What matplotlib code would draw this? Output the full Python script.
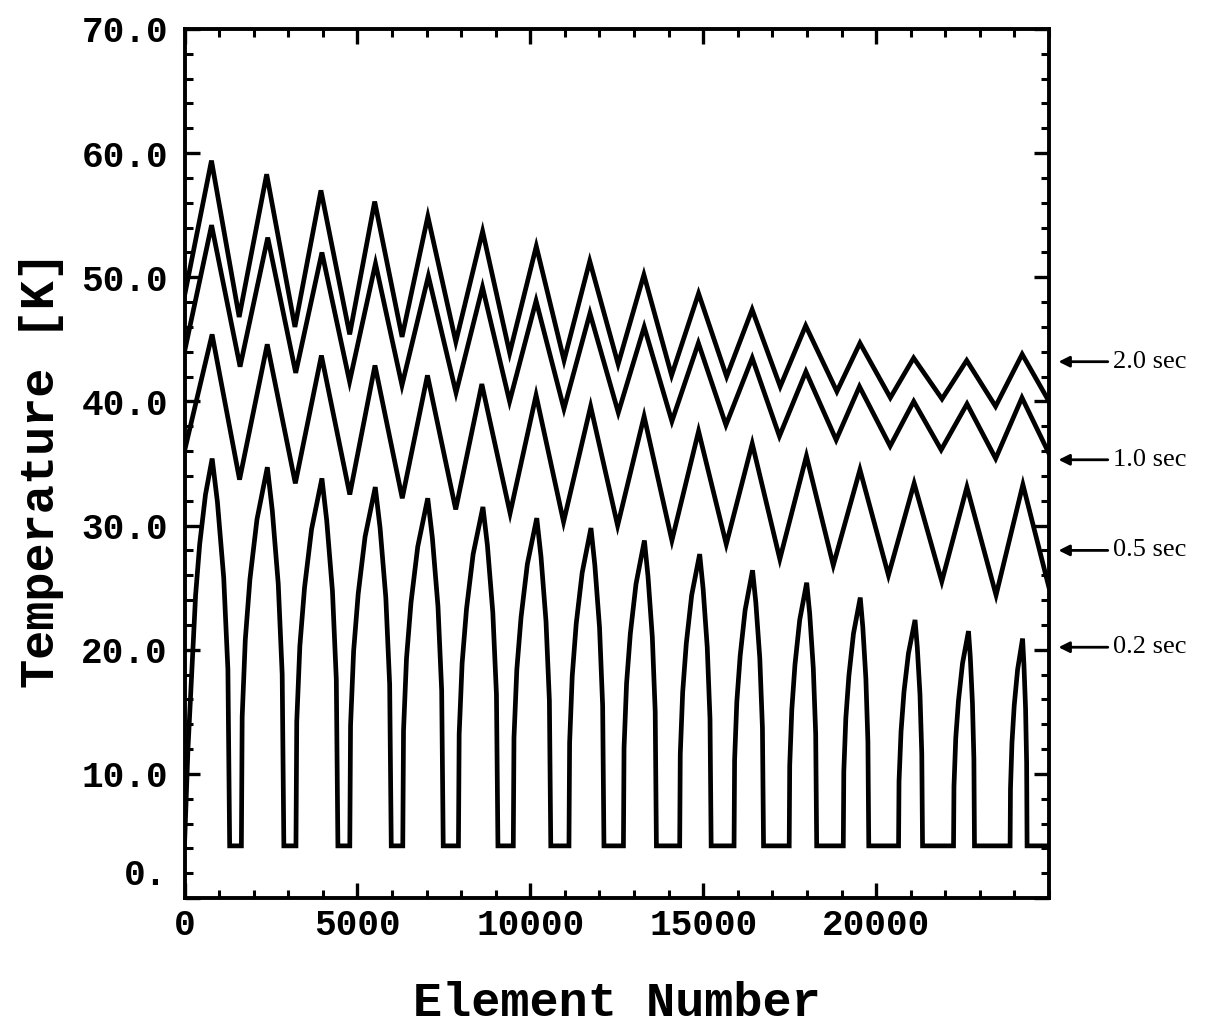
import matplotlib
matplotlib.use("Agg")
import matplotlib.pyplot as plt
from matplotlib.ticker import MultipleLocator, FixedLocator, FixedFormatter
import matplotlib.transforms as mtrans

# ---------------- data ----------------
x_end = 25000

# 2.0 sec curve
start_20 = 48.5
peak_x_20 = [780, 2376, 3945, 5500, 7037, 8621, 10173, 11719, 13285, 14866, 16415, 17964, 19533, 21085, 22620, 24224]
peak_T_20 = [59.4, 58.3, 57.0, 56.1, 54.9, 53.7, 52.5, 51.3, 50.2, 48.7, 47.4, 46.1, 44.7, 43.5, 43.3, 43.8]
valley_x_20 = [1581, 3193, 4777, 6291, 7846, 9404, 10976, 12540, 14086, 15678, 17227, 18866, 20412, 21906, 23455]
valley_T_20 = [46.8, 46.0, 45.4, 45.2, 44.8, 43.9, 43.3, 43.0, 42.1, 42.0, 41.2, 40.8, 40.3, 40.2, 39.6]
end_20 = 40.0

# 1.0 sec curve
start_10 = 44.0
peak_x_10 = [783, 2407, 3974, 5523, 7052, 8618, 10167, 11725, 13294, 14861, 16418, 17970, 19519, 21088, 22629, 24218]
peak_T_10 = [54.2, 53.2, 52.0, 51.1, 50.1, 49.2, 48.1, 47.1, 46.0, 44.7, 43.5, 42.4, 41.2, 40.0, 39.8, 40.3]
valley_x_10 = [1607, 3216, 4774, 6289, 7852, 9401, 10973, 12545, 14095, 15658, 17204, 18845, 20406, 21882, 23458]
valley_T_10 = [42.8, 42.3, 41.6, 41.3, 40.7, 40.0, 39.4, 39.1, 38.4, 38.1, 37.2, 36.9, 36.4, 36.1, 35.4]
end_10 = 35.8

# 0.5 sec curve
start_05 = 36.0
peak_x_05 = [798, 2393, 3959, 5508, 7026, 8598, 10167, 11745, 13291, 14866, 16418, 17985, 19533, 21100, 22626, 24245]
peak_T_05 = [45.4, 44.6, 43.7, 42.9, 42.1, 41.4, 40.5, 39.6, 38.8, 37.6, 36.6, 35.6, 34.5, 33.4, 33.1, 33.3]
valley_x_05 = [1592, 3205, 4780, 6297, 7843, 9416, 10962, 12525, 14095, 15667, 17216, 18762, 20357, 21900, 23469]
valley_T_05 = [33.7, 33.4, 32.5, 32.2, 31.3, 31.0, 30.3, 30.0, 28.8, 28.5, 27.3, 26.8, 26.0, 25.5, 24.4]
end_05 = 25.0

# 0.2 sec curve (arches with flat bottoms at about 4.2 K)
x_02 = [0, 100, 248, 321, 439, 607, 800, 952, 1134, 1255, 1306,
        1645, 1668, 1758, 1893, 2096, 2396, 2539, 2711, 2825, 2873,
        3223, 3246, 3336, 3471, 3674, 3974, 4113, 4279, 4390, 4436,
        4780, 4802, 4891, 5023, 5222, 5517, 5656, 5822, 5933, 5979,
        6312, 6334, 6420, 6550, 6745, 7034, 7168, 7330, 7437, 7482,
        7922, 7943, 8028, 8156, 8347, 8630, 8760, 8916, 9021, 9064,
        9508, 9528, 9610, 9732, 9915, 10187, 10309, 10454, 10552, 10592,
        11118, 11137, 11213, 11328, 11500, 11754, 11867, 12002, 12092, 12130,
        12693, 12711, 12784, 12893, 13057, 13300, 13404, 13529, 13612, 13647,
        14320, 14337, 14407, 14511, 14667, 14898, 14998, 15117, 15197, 15230,
        15892, 15908, 15972, 16069, 16213, 16427, 16522, 16637, 16713, 16745,
        17487, 17502, 17563, 17654, 17791, 17993, 18080, 18184, 18253, 18282,
        19051, 19066, 19125, 19213, 19346, 19542, 19616, 19704, 19763, 19788,
        20649, 20663, 20721, 20806, 20935, 21126, 21191, 21269, 21321, 21343,
        22239, 22252, 22304, 22382, 22499, 22672, 22724, 22786, 22828, 22845,
        23875, 23886, 23929, 23994, 24092, 24236, 24275, 24322, 24353, 24366,
        25000]
T_02 = [4.2, 12.0, 20.4, 24.4, 28.5, 32.5, 35.4, 31.9, 25.8, 18.4, 4.2,
        4.2, 14.6, 20.8, 25.7, 30.5, 34.7, 31.2, 25.3, 18.0, 4.2,
        4.2, 14.2, 20.3, 25.0, 29.7, 33.8, 30.4, 24.7, 17.6, 4.2,
        4.2, 13.9, 19.9, 24.5, 29.1, 33.1, 29.8, 24.2, 17.2, 4.2,
        4.2, 13.5, 19.3, 23.8, 28.3, 32.2, 29.0, 23.5, 16.7, 4.2,
        4.2, 13.2, 18.9, 23.3, 27.7, 31.5, 28.4, 23.0, 16.4, 4.2,
        4.2, 12.9, 18.4, 22.6, 26.9, 30.6, 27.5, 22.3, 15.9, 4.2,
        4.2, 12.5, 17.9, 22.1, 26.2, 29.8, 26.8, 21.8, 15.5, 4.2,
        4.2, 12.1, 17.3, 21.3, 25.3, 28.8, 25.9, 21.0, 15.0, 4.2,
        4.2, 11.6, 16.6, 20.5, 24.4, 27.7, 24.9, 20.2, 14.4, 4.2,
        4.2, 11.1, 15.8, 19.5, 23.2, 26.4, 23.8, 19.3, 13.7, 4.2,
        4.2, 10.7, 15.2, 18.8, 22.4, 25.4, 22.9, 18.5, 13.2, 4.2,
        4.2, 10.2, 14.5, 17.9, 21.3, 24.2, 21.8, 17.7, 12.6, 4.2,
        4.2, 9.4, 13.4, 16.6, 19.7, 22.4, 20.2, 16.4, 11.6, 4.2,
        4.2, 9.0, 12.9, 15.9, 18.9, 21.5, 19.4, 15.7, 11.2, 4.2,
        4.2, 8.8, 12.5, 15.5, 18.4, 20.9, 18.8, 15.3, 10.9, 4.2,
        4.2]

curve_labels = ["2.0 sec", "1.0 sec", "0.5 sec", "0.2 sec"]
label_T = [43.2, 35.3, 28.0, 20.2]

x_major = [0, 5000, 10000, 15000, 20000]
x_major_labels = ["0", "5000", "10000", "15000", "20000"]
y_major = [0, 10, 20, 30, 40, 50, 60, 70]
y_major_labels = ["0.", "10.0", "20.0", "30.0", "40.0", "50.0", "60.0", "70.0"]


def zigzag(start, px, pT, vx, vT, end):
    xs, ts = [0], [start]
    for i in range(len(px)):
        xs.append(px[i]); ts.append(pT[i])
        if i < len(vx):
            xs.append(vx[i]); ts.append(vT[i])
    xs.append(x_end); ts.append(end)
    return xs, ts


# ---------------- figure ----------------
W, H = 1208, 1027
fig = plt.figure(figsize=(W / 100, H / 100), dpi=100)
L, R, T, B = 184.5, 1049, 29, 898
ax = fig.add_axes([L / W, 1 - B / H, (R - L) / W, (B - T) / H])

lw = 3.4
for (st, px, pT, vx, vT, en) in [
    (start_20, peak_x_20, peak_T_20, valley_x_20, valley_T_20, end_20),
    (start_10, peak_x_10, peak_T_10, valley_x_10, valley_T_10, end_10),
    (start_05, peak_x_05, peak_T_05, valley_x_05, valley_T_05, end_05),
]:
    xs, ts = zigzag(st, px, pT, vx, vT, en)
    ax.plot(xs, ts, color="black", lw=lw, solid_joinstyle="miter")

ax.plot(x_02, T_02, color="black", lw=lw, solid_joinstyle="miter")

ax.set_xlim(0, x_end)
ax.set_ylim(0, 70)

tick_family = "Liberation Mono"
tick_size = 26
ax.xaxis.set_major_locator(FixedLocator(x_major))
ax.xaxis.set_major_formatter(FixedFormatter(x_major_labels))
ax.xaxis.set_minor_locator(MultipleLocator(1000))
ax.yaxis.set_major_locator(FixedLocator(y_major))
# the "0." label sits a little above its tick in the reference; drawn separately below
ax.yaxis.set_major_formatter(FixedFormatter([""] + y_major_labels[1:]))
ax.yaxis.set_minor_locator(MultipleLocator(2))

ax.tick_params(which="both", direction="in", top=True, right=True, color="black")
ax.tick_params(which="major", length=11, width=2.4)
ax.tick_params(which="minor", length=6, width=2.2)
ax.tick_params(axis="x", which="major", pad=7)
ax.tick_params(axis="y", which="major", pad=12)
for lab in ax.get_xticklabels() + ax.get_yticklabels():
    lab.set_fontfamily(tick_family)
    lab.set_fontweight("bold")
    lab.set_fontsize(tick_size)

trans = mtrans.blended_transform_factory(ax.transAxes, ax.transData)
ax.text(-0.02, 1.8, y_major_labels[0], transform=trans, ha="right", va="center",
        family=tick_family, weight="bold", size=tick_size, clip_on=False)

for sp in ax.spines.values():
    sp.set_linewidth(2.8)

label_font = dict(family="Liberation Mono", weight="bold", size=35)
fig.text(617 / W, 1 - 1003 / H, "Element Number", ha="center", va="center", **label_font)
fig.text(42 / W, 1 - 470 / H, "Temperature [K]", ha="center", va="center", rotation=90, **label_font)

for lab, ty in zip(curve_labels, label_T):
    ax.annotate("", xy=(1.011, ty), xycoords=trans, xytext=(1.068, ty), textcoords=trans,
                arrowprops=dict(arrowstyle="-|>", lw=2.0, color="black", mutation_scale=16,
                                shrinkA=0, shrinkB=0), annotation_clip=False)
    ax.text(1.074, ty, lab, transform=trans, ha="left", va="center",
            family="Liberation Serif", size=19, clip_on=False)

fig.savefig("out.png", dpi=100)
